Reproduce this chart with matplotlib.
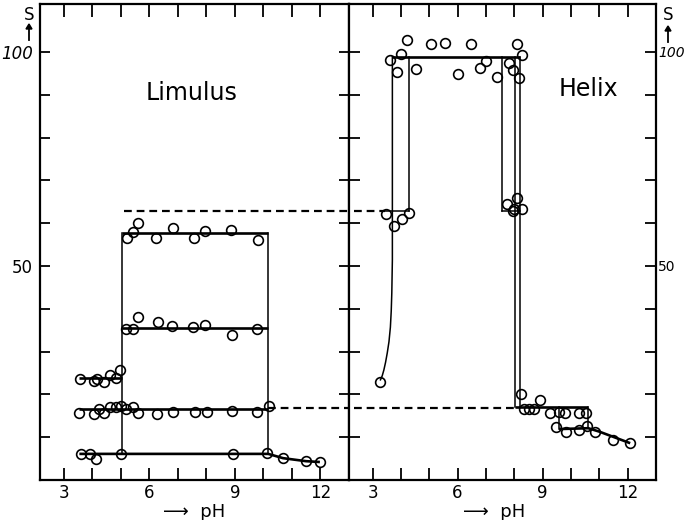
import matplotlib
matplotlib.use("Agg")
import matplotlib.pyplot as plt

# Limulus (left panel): pH, S values
lim_top_ph = [5.23, 5.42, 5.60, 6.24, 6.82, 7.56, 7.97, 8.86, 9.82]
lim_top_s = [56.5, 58.0, 60.1, 56.6, 58.9, 56.6, 58.2, 58.4, 56.1]
lim_mid_ph = [5.17, 5.42, 5.60, 6.32, 6.79, 7.52, 7.97, 8.90, 9.77]
lim_mid_s = [35.2, 35.2, 38.0, 36.8, 36.0, 35.7, 36.1, 33.9, 35.3]
lim_24_ph = [3.56, 4.06, 4.18, 4.41, 4.61, 4.82, 4.99]
lim_24_s = [23.7, 23.2, 23.7, 23.0, 24.6, 23.8, 25.7]
lim_17_ph = [3.53, 4.05, 4.23, 4.41, 4.61, 4.82, 5.02, 5.19, 5.42, 5.60,
             6.28, 6.82, 7.62, 8.04, 8.90, 9.77, 10.18]
lim_17_s = [15.7, 15.4, 16.6, 15.7, 17.0, 17.1, 17.3, 16.5, 17.1, 15.7,
            15.4, 15.8, 16.0, 16.0, 16.1, 16.0, 17.4]
lim_low_ph = [3.59, 3.91, 4.14, 5.02, 8.92, 10.14, 10.69, 11.49, 11.98]
lim_low_s = [6.0, 6.0, 4.9, 6.0, 6.1, 6.2, 5.1, 4.4, 4.3]

# Limulus guide lines
lim_box_ph = [5.06, 10.17]
lim_levels = [57.7, 35.5]
lim_24_line = ([3.55, 5.06], [23.8, 23.8])
lim_17_line = ([3.55, 10.17], [16.6, 16.6])
lim_low_line = ([3.55, 10.17, 10.69, 11.49, 11.98], [6.1, 6.1, 5.1, 4.4, 4.2])

# Helix (right panel)
hel_top_ph = [4.23, 5.07, 5.55, 6.46, 8.08, 3.61, 4.02, 3.87, 4.54, 6.03,
              6.79, 7.02, 7.38, 7.80, 8.29, 7.96, 8.17]
hel_top_s = [102.8, 101.9, 102.2, 101.9, 101.9, 98.1, 99.5, 95.4, 96.0, 94.9,
             96.2, 98.0, 94.1, 97.5, 99.3, 95.8, 93.9]
hel_62_ph = [3.48, 3.74, 4.05, 4.27, 7.76, 7.94, 8.11, 7.99, 8.26]
hel_62_s = [62.2, 59.3, 61.0, 62.3, 64.4, 62.9, 65.8, 63.2, 63.2]
hel_low_ph = [3.26, 8.23, 8.91, 8.35, 8.52, 8.70, 9.27, 9.58, 9.80, 10.29,
              10.53, 9.47, 9.84, 10.27, 10.56, 10.84, 11.47, 12.09]
hel_low_s = [22.8, 20.1, 18.7, 16.6, 16.5, 16.5, 15.7, 16.0, 15.7, 15.6,
             15.6, 12.3, 11.3, 11.7, 12.5, 11.3, 9.3, 8.6]

# Helix guide lines
hel_curve = ([3.28, 3.34, 3.40, 3.46, 3.52, 3.58, 3.63, 3.66, 3.68, 3.70, 3.70],
             [23.4, 24.3, 25.7, 27.5, 29.7, 32.3, 35.7, 39.5, 43.7, 51.4, 98.9])
hel_top_line = ([3.70, 8.21], [98.9, 98.9])
hel_verticals = [(4.28, 62.8, 98.9), (7.56, 62.8, 98.9),
                 (8.02, 17.0, 98.9), (8.21, 17.0, 98.9),
                 (9.58, 11.9, 17.0), (10.61, 12.1, 17.0)]
hel_62_lines = [([3.45, 4.28], [62.8, 62.8]), ([7.56, 8.21], [62.8, 62.8])]
hel_17_line = ([8.02, 10.61], [17.0, 17.0])
hel_low_line = ([9.58, 10.61, 11.0, 12.09], [11.9, 12.1, 11.3, 8.6])

dash_hi = 62.8
dash_lo = 16.8

W, H = 685, 520
fig = plt.figure(figsize=(W / 100, H / 100), dpi=100)
axL = fig.add_axes([40 / W, 1 - 480 / H, 309 / W, 476 / H])
axR = fig.add_axes([349 / W, 1 - 480 / H, 307 / W, 476 / H])

thick = dict(color='black', lw=1.9, solid_capstyle='butt')
thin = dict(color='black', lw=1.1)
dash = dict(color='black', lw=1.6, linestyle=(0, (3.5, 2.2)))
circ = dict(ls='none', marker='o', ms=7, mfc='none', mec='black', mew=1.2)

# --- Limulus ---
for x in lim_box_ph:
    axL.plot([x, x], [lim_low_line[1][0], lim_levels[0]], **thin)
for lev in lim_levels:
    axL.plot(lim_box_ph, [lev, lev], **thick)
axL.plot(*lim_24_line, **thick)
axL.plot(*lim_17_line, **thick)
axL.plot(*lim_low_line, **thick)
axL.plot([5.13, 14], [dash_hi, dash_hi], **dash)
axL.plot([10.17, 14], [dash_lo, dash_lo], **dash)
for px, sy in [(lim_top_ph, lim_top_s), (lim_mid_ph, lim_mid_s), (lim_24_ph, lim_24_s),
               (lim_17_ph, lim_17_s), (lim_low_ph, lim_low_s)]:
    axL.plot(px, sy, **circ)
axL.text(7.48, 90.4, 'Limulus', fontsize=17, ha='center', va='center')

# --- Helix ---
axR.plot(*hel_curve, **thin)
for x, y0, y1 in hel_verticals:
    axR.plot([x, x], [y0, y1], **thin)
axR.plot(*hel_top_line, **thick)
for ln in hel_62_lines:
    axR.plot(*ln, **thin)
axR.plot(*hel_17_line, **thick)
axR.plot(*hel_low_line, **thick)
axR.plot([1, 3.45], [dash_hi, dash_hi], **dash)
axR.plot([1, 8.02], [dash_lo, dash_lo], **dash)
for px, sy in [(hel_top_ph, hel_top_s), (hel_62_ph, hel_62_s), (hel_low_ph, hel_low_s)]:
    axR.plot(px, sy, **circ)
axR.text(10.63, 91.4, 'Helix', fontsize=17, ha='center', va='center')

xt = list(range(3, 13))
xl = ['3', '', '', '6', '', '', '9', '', '', '12']
yt = list(range(10, 101, 10))
yl = ['', '', '', '', '50', '', '', '', '', '100']
for ax in (axL, axR):
    ax.set_xlim(2.17, 13.0)
    ax.set_ylim(0, 111.2)
    ax.set_xticks(xt, labels=xl)
    ax.set_yticks(yt, labels=yl)
    ax.tick_params(axis='x', direction='in', length=9, width=1.3, top=True,
                   bottom=True, labelsize=12, pad=3)
    for s in ax.spines.values():
        s.set_linewidth(1.6)

axL.tick_params(axis='y', direction='in', length=7, width=1.3, left=True,
                right=True, labelsize=12, pad=5)
axR.tick_params(axis='y', direction='in', length=8, width=1.3, left=True,
                right=True, labelleft=False, labelright=True, labelsize=10, pad=1.5)
for ax in (axL, axR):
    for lab in ax.get_yticklabels():
        if lab.get_text() == '100':
            lab.set_fontstyle('italic')

# "S" with an upward arrow above each 100 label
for sx, sy, ay0, ay1 in [(29, 15, 40, 24), (668, 15, 42, 26)]:
    fig.text(sx / W, 1 - sy / H, 'S', fontsize=12, ha='center', va='center')
    fig.add_artist(plt.Line2D([sx / W, sx / W], [1 - ay0 / H, 1 - (ay1 + 3) / H],
                              color='black', lw=1.3))
    fig.add_artist(plt.Polygon([[sx / W - 3 / W, 1 - (ay1 + 5) / H],
                                [sx / W + 3 / W, 1 - (ay1 + 5) / H],
                                [sx / W, 1 - ay1 / H]], closed=True, color='black'))

fig.text(194 / W, 1 - 512 / H, '⟶  pH', fontsize=13, ha='center', va='center')
fig.text(494 / W, 1 - 512 / H, '⟶  pH', fontsize=13, ha='center', va='center')

fig.savefig('out.png', dpi=100)
